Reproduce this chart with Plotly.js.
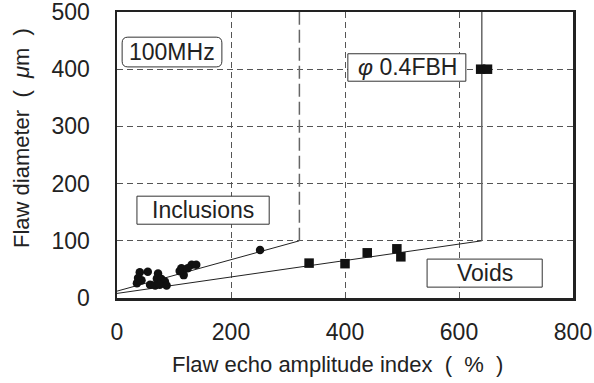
<!DOCTYPE html>
<html>
<head>
<meta charset="utf-8">
<script src="https://cdn.plot.ly/plotly-3.0.1.min.js"></script>
<style>html,body{margin:0;padding:0;background:#fff;}#chart{width:594px;height:383px;}</style>
</head>
<body>
<div id="chart"></div>
<script>
// Inclusions (circles)
const inclusionX = [251, 131, 139, 113, 117, 40, 54, 37, 43, 35, 72, 70, 78, 84, 58, 67, 75, 87, 110, 124];
const inclusionY = [84, 58, 58, 52, 40, 45, 46, 35, 31, 26, 43, 34, 33, 29, 23, 22, 23, 22, 47, 52];
// Voids (squares)
const voidX = [337, 400, 439, 491, 498, 638, 650];
const voidY = [61, 60, 79, 86, 72, 400, 400];
// Boundary lines
const inclLineX = [0, 320];
const inclLineY = [12, 100];
const inclVertX = [320, 320];
const inclVertY = [100, 500];
const voidLineX = [0, 640];
const voidLineY = [8, 100];
const voidVertX = [640, 640];
const voidVertY = [100, 500];
// Axis ticks
const xTicks = [0, 200, 400, 600, 800];
const yTicks = [0, 100, 200, 300, 400, 500];

const FONT = 'Liberation Sans, Arial, Helvetica, sans-serif';
const TXT = '#222';

const traces = [
  {x: inclLineX, y: inclLineY, mode: 'lines', line: {color: '#222', width: 1}, hoverinfo: 'skip'},
  {x: inclVertX, y: inclVertY, mode: 'lines', line: {color: '#666', width: 1.5, dash: '13px,5px'}, hoverinfo: 'skip'},
  {x: voidLineX, y: voidLineY, mode: 'lines', line: {color: '#222', width: 1}, hoverinfo: 'skip'},
  {x: voidVertX, y: voidVertY, mode: 'lines', line: {color: '#666', width: 1.5}, hoverinfo: 'skip'},
  {x: inclusionX, y: inclusionY, mode: 'markers', marker: {symbol: 'circle', size: 8.5, color: '#111'}},
  {x: voidX, y: voidY, mode: 'markers', marker: {symbol: 'square', size: 9.5, color: '#111'}}
];

function rrect(x0, x1, y0, y1, r) {
  return `M${x0+r},${y0} L${x1-r},${y0} Q${x1},${y0} ${x1},${y0+r} L${x1},${y1-r} Q${x1},${y1} ${x1-r},${y1} L${x0+r},${y1} Q${x0},${y1} ${x0},${y1-r} L${x0},${y0+r} Q${x0},${y0} ${x0+r},${y0} Z`;
}

const layout = {
  width: 594, height: 383,
  margin: {l: 117, r: 21, t: 12, b: 85},
  paper_bgcolor: '#fff', plot_bgcolor: '#fff',
  showlegend: false,
  font: {family: FONT, color: TXT, size: 22},
  xaxis: {
    range: [0, 800], tickvals: xTicks, ticktext: xTicks.map(String),
    showgrid: true, gridcolor: '#555', gridwidth: 1, griddash: '6px,4px',
    zeroline: false, showline: true, mirror: true, linecolor: '#222', linewidth: 2.5,
    ticks: 'outside', ticklen: 12, tickcolor: 'rgba(0,0,0,0)', ticklabeloverflow: 'allow',
    tickfont: {size: 23, family: FONT, color: TXT}
  },
  yaxis: {
    range: [0, 500], tickvals: yTicks, ticktext: yTicks.map(String),
    showgrid: true, gridcolor: '#555', gridwidth: 1, griddash: '6px,4px',
    zeroline: false, showline: true, mirror: true, linecolor: '#222', linewidth: 2.5,
    ticks: 'outside', ticklen: 20, tickcolor: 'rgba(0,0,0,0)', ticklabeloverflow: 'allow',
    tickfont: {size: 23, family: FONT, color: TXT}
  },
  shapes: [
    {type: 'path', xref: 'x', yref: 'y', path: rrect(9, 184, 404, 456, 10), line: {color: '#333', width: 1}, fillcolor: '#fff', layer: 'above'},
    {type: 'rect', xref: 'x', yref: 'y', x0: 405, x1: 612, y0: 379, y1: 427, line: {color: '#333', width: 1}, fillcolor: '#fff', layer: 'above'},
    {type: 'rect', xref: 'x', yref: 'y', x0: 35, x1: 267, y0: 129, y1: 178, line: {color: '#333', width: 1}, fillcolor: '#fff', layer: 'above'},
    {type: 'rect', xref: 'x', yref: 'y', x0: 544, x1: 746, y0: 19, y1: 68, line: {color: '#333', width: 1}, fillcolor: '#fff', layer: 'above'}
  ],
  annotations: [
    {xref: 'x', yref: 'y', x: 96, y: 430, text: '100MHz', showarrow: false, font: {size: 23, family: FONT, color: TXT}},
    {xref: 'x', yref: 'y', x: 509, y: 403, text: '<i>φ</i> 0.4FBH', showarrow: false, font: {size: 23, family: FONT, color: TXT}},
    {xref: 'x', yref: 'y', x: 151, y: 154, text: 'Inclusions', showarrow: false, font: {size: 23, family: FONT, color: TXT}},
    {xref: 'x', yref: 'y', x: 645, y: 44, text: 'Voids', showarrow: false, font: {size: 23, family: FONT, color: TXT}},
    {xref: 'paper', yref: 'paper', x: (170 - 117) / 456, y: -(365 - 298) / 286, xanchor: 'left', yanchor: 'middle',
     text: 'Flaw echo amplitude index&nbsp;&nbsp;(&nbsp;&nbsp;%&nbsp;&nbsp;)', showarrow: false, font: {size: 22, family: FONT, color: TXT}},
    {xref: 'paper', yref: 'paper', x: -(117 - 21) / 456, y: (298 - 138) / 286, xanchor: 'center', yanchor: 'middle', textangle: -90,
     text: 'Flaw diameter&nbsp;&nbsp;(&nbsp;&nbsp;<i>μ</i>m&nbsp;&nbsp;)', showarrow: false, font: {size: 22, family: FONT, color: TXT}}
  ]
};

Plotly.newPlot('chart', traces, layout, {displayModeBar: false, staticPlot: true});
</script>
</body>
</html>
